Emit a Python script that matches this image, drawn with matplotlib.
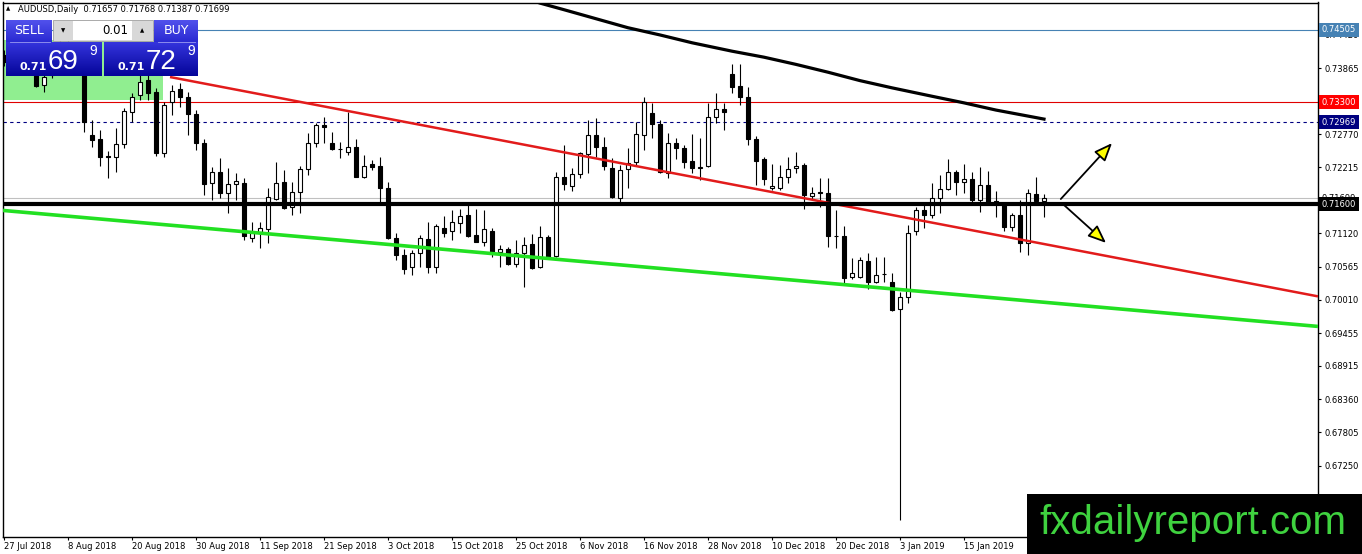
import numpy as np
import matplotlib
matplotlib.use("Agg")
import matplotlib.pyplot as plt
from matplotlib.patches import Rectangle
from matplotlib.colors import LinearSegmentedColormap

# daily AUDUSD candles (bar 0 = 27 Jul 2018)
opens = [0.7409, 0.7400, 0.7417, 0.7404, 0.7384, 0.7359, 0.7375, 0.7405, 0.7428, 0.7410,
         0.7390, 0.7276, 0.7269, 0.7240, 0.7239, 0.7261, 0.7314, 0.7342, 0.7367, 0.7347,
         0.7246, 0.7330, 0.7352, 0.7339, 0.7310, 0.7262, 0.7196, 0.7214, 0.7179, 0.7194,
         0.7196, 0.7104, 0.7114, 0.7119, 0.7169, 0.7197, 0.7156, 0.7181, 0.7219, 0.7262,
         0.7292, 0.7262, 0.7253, 0.7247, 0.7256, 0.7206, 0.7227, 0.7224, 0.7187, 0.7104,
         0.7076, 0.7056, 0.7079, 0.7102, 0.7056, 0.7121, 0.7116, 0.7129, 0.7142, 0.7109,
         0.7097, 0.7116, 0.7081, 0.7086, 0.7061, 0.7079, 0.7094, 0.7056, 0.7106, 0.7074,
         0.7206, 0.7191, 0.7211, 0.7244, 0.7276, 0.7256, 0.7221, 0.7171, 0.7219, 0.7231,
         0.7276, 0.7312, 0.7294, 0.7212, 0.7262, 0.7254, 0.7232, 0.7221, 0.7224, 0.7305,
         0.7319, 0.7377, 0.7357, 0.7339, 0.7269, 0.7236, 0.7187, 0.7187, 0.7206, 0.7221,
         0.7226, 0.7174, 0.7180, 0.7179, 0.7108, 0.7107, 0.7039, 0.7039, 0.7066, 0.7031,
         0.7044, 0.7031, 0.6986, 0.7006, 0.7116, 0.7151, 0.7142, 0.7171, 0.7186, 0.7214,
         0.7197, 0.7202, 0.7167, 0.7192, 0.7166, 0.7162, 0.7122, 0.7142, 0.7096, 0.7177,
         0.71657]
highs = [0.7417, 0.7425, 0.7427, 0.7417, 0.7392, 0.7380, 0.7412, 0.7438, 0.7436, 0.7418,
         0.7395, 0.7300, 0.7284, 0.7249, 0.7287, 0.7320, 0.7345, 0.7375, 0.7375, 0.7354,
         0.7330, 0.7359, 0.7362, 0.7347, 0.7317, 0.7269, 0.7222, 0.7237, 0.7221, 0.7212,
         0.7204, 0.7131, 0.7131, 0.7187, 0.7231, 0.7217, 0.7197, 0.7224, 0.7279, 0.7296,
         0.7305, 0.7281, 0.7264, 0.7314, 0.7269, 0.7242, 0.7234, 0.7239, 0.7197, 0.7112,
         0.7086, 0.7084, 0.7109, 0.7131, 0.7127, 0.7141, 0.7151, 0.7152, 0.7159, 0.7152,
         0.7151, 0.7121, 0.7092, 0.7089, 0.7101, 0.7106, 0.7111, 0.7124, 0.7109, 0.7214,
         0.7259, 0.7221, 0.7247, 0.7300, 0.7304, 0.7272, 0.7237, 0.7226, 0.7254, 0.7297,
         0.7339, 0.7329, 0.7300, 0.7279, 0.7271, 0.7259, 0.7277, 0.7271, 0.7329, 0.7345,
         0.7329, 0.7394, 0.7394, 0.7355, 0.7274, 0.7239, 0.7227, 0.7226, 0.7239, 0.7247,
         0.7229, 0.7189, 0.7204, 0.7204, 0.7151, 0.7124, 0.7071, 0.7073, 0.7079, 0.7073,
         0.7073, 0.7046, 0.7014, 0.7126, 0.7156, 0.7159, 0.7196, 0.7209, 0.7236, 0.7217,
         0.7227, 0.7214, 0.7222, 0.7216, 0.7182, 0.7164, 0.7146, 0.7167, 0.7186, 0.7206,
         0.71768]
lows = [0.7390, 0.7395, 0.7397, 0.7384, 0.7355, 0.7347, 0.7370, 0.7398, 0.7402, 0.7384,
        0.7281, 0.7256, 0.7224, 0.7204, 0.7214, 0.7254, 0.7297, 0.7334, 0.7334, 0.7241,
        0.7239, 0.7309, 0.7322, 0.7276, 0.7251, 0.7176, 0.7167, 0.7171, 0.7146, 0.7167,
        0.7101, 0.7097, 0.7088, 0.7096, 0.7167, 0.7152, 0.7142, 0.7146, 0.7209, 0.7256,
        0.7262, 0.7251, 0.7237, 0.7242, 0.7205, 0.7204, 0.7217, 0.7164, 0.7102, 0.7068,
        0.7044, 0.7043, 0.7056, 0.7046, 0.7046, 0.7106, 0.7101, 0.7112, 0.7106, 0.7097,
        0.7091, 0.7073, 0.7056, 0.7059, 0.7056, 0.7023, 0.7053, 0.7054, 0.7071, 0.7073,
        0.7184, 0.7182, 0.7204, 0.7212, 0.7239, 0.7217, 0.7171, 0.7164, 0.7187, 0.7226,
        0.7251, 0.7271, 0.7212, 0.7204, 0.7236, 0.7221, 0.7212, 0.7201, 0.7222, 0.7296,
        0.7284, 0.7345, 0.7325, 0.7259, 0.7192, 0.7192, 0.7184, 0.7184, 0.7196, 0.7212,
        0.7152, 0.7167, 0.7156, 0.7089, 0.7088, 0.7029, 0.7036, 0.7038, 0.7019, 0.7029,
        0.7031, 0.6983, 0.6635, 0.6996, 0.7109, 0.7121, 0.7137, 0.7146, 0.7184, 0.7176,
        0.7179, 0.7164, 0.7147, 0.7162, 0.7139, 0.7116, 0.7116, 0.7081, 0.7076, 0.7162,
        0.71387]
closes = [0.7397, 0.7414, 0.7404, 0.7390, 0.7357, 0.7372, 0.7405, 0.7428, 0.7410, 0.7390,
          0.7297, 0.7267, 0.7239, 0.7239, 0.7261, 0.7315, 0.7339, 0.7364, 0.7345, 0.7246,
          0.7325, 0.7349, 0.7339, 0.7310, 0.7262, 0.7194, 0.7214, 0.7179, 0.7194, 0.7199,
          0.7107, 0.7114, 0.7121, 0.7172, 0.7196, 0.7154, 0.7181, 0.7219, 0.7262, 0.7292,
          0.7289, 0.7252, 0.7252, 0.7256, 0.7206, 0.7224, 0.7222, 0.7187, 0.7104, 0.7076,
          0.7053, 0.7079, 0.7104, 0.7056, 0.7124, 0.7112, 0.7131, 0.7141, 0.7107, 0.7097,
          0.7119, 0.7081, 0.7086, 0.7061, 0.7079, 0.7092, 0.7054, 0.7106, 0.7073, 0.7206,
          0.7194, 0.7211, 0.7246, 0.7276, 0.7256, 0.7224, 0.7172, 0.7217, 0.7229, 0.7277,
          0.7330, 0.7294, 0.7214, 0.7262, 0.7254, 0.7231, 0.7221, 0.7222, 0.7305, 0.7319,
          0.7314, 0.7355, 0.7339, 0.7269, 0.7232, 0.7202, 0.7191, 0.7206, 0.7219, 0.7224,
          0.7176, 0.7179, 0.7179, 0.7107, 0.7107, 0.7038, 0.7046, 0.7068, 0.7031, 0.7043,
          0.7045, 0.6984, 0.7006, 0.7112, 0.7151, 0.7142, 0.7171, 0.7186, 0.7214, 0.7197,
          0.7202, 0.7167, 0.7192, 0.7162, 0.7162, 0.7122, 0.7142, 0.7096, 0.7179, 0.7166,
          0.71699]

date_labels = ["27 Jul 2018", "8 Aug 2018", "20 Aug 2018", "30 Aug 2018", "11 Sep 2018",
               "21 Sep 2018", "3 Oct 2018", "15 Oct 2018", "25 Oct 2018", "6 Nov 2018",
               "16 Nov 2018", "28 Nov 2018", "10 Dec 2018", "20 Dec 2018", "3 Jan 2019",
               "15 Jan 2019"]
price_ticks = [0.74420, 0.73865, 0.73310, 0.72770, 0.72215, 0.71120, 0.70565, 0.70010,
               0.69455, 0.68915, 0.68360, 0.67805, 0.67250, 0.66695]

# slow moving average (bar index, value)
ma_bars = [64, 67, 70, 74, 78, 82, 86, 91, 95, 99, 103, 107, 111, 116, 120, 124, 130]
ma_vals = [0.7509, 0.7495, 0.7484, 0.7469, 0.7454, 0.7442, 0.7429, 0.7415, 0.7405,
           0.7393, 0.7380, 0.7366, 0.7354, 0.7340, 0.7329, 0.7317, 0.7302]

# drawn objects
red_trend = ([20.75, 164.25], [0.7372, 0.7007])
green_trend = ([-0.125, 164.25], [0.7150, 0.6957])
support = 0.71600
resist = 0.73300
dash_level = 0.72969
blue_level = 0.74505
bid = 0.71699
box_price = (0.7334, 0.7434)
box_bars = (-0.125, 19.85)
arrow_up = ((132.1, 0.7169), (138.5, 0.7262))
arrow_down = ((132.5, 0.7159), (137.75, 0.7096))

W, H = 1362, 554
fig = plt.figure(figsize=(W / 100, H / 100), dpi=100)
fig.patch.set_facecolor("white")
ax = fig.add_axes([3 / W, (H - 537) / H, 1315 / W, (537 - 2.5) / H])

x = np.arange(len(opens))
o, hi, lo, c = map(np.array, (opens, highs, lows, closes))
up = c >= o
body_lo = np.minimum(o, c)
body_h = np.maximum(np.abs(c - o), 0.00006)

ax.add_patch(Rectangle((box_bars[0], box_price[0]), box_bars[1] - box_bars[0],
                       box_price[1] - box_price[0], color="#90ee90", lw=0, zorder=1))
ax.axhline(blue_level, color="#4682b4", lw=0.8, zorder=1.5)
ax.axhline(resist, color="#e00000", lw=0.8, zorder=1.5)
ax.axhline(dash_level, color="#000080", lw=0.8, dashes=(3, 3), zorder=1.5)
ax.axhline(bid, color="#c0c0c0", lw=0.8, zorder=1.5)

ax.vlines(x, lo, hi, color="black", lw=0.8, zorder=2)
ax.bar(x[up], body_h[up], bottom=body_lo[up], width=0.62, color="white",
       edgecolor="black", linewidth=0.8, zorder=3)
ax.bar(x[~up], body_h[~up], bottom=body_lo[~up], width=0.62, color="black",
       edgecolor="black", linewidth=0.8, zorder=3)

ax.plot(*red_trend, color="#e21b1b", lw=1.8, zorder=4, solid_capstyle="butt")
ax.plot(*green_trend, color="#22e022", lw=2.6, zorder=4, solid_capstyle="butt")
ax.plot(ma_bars, ma_vals, color="black", lw=2.3, zorder=4, solid_joinstyle="round")
ax.axhline(support, color="black", lw=3.0, zorder=4)

for start, end in (arrow_up, arrow_down):
    ax.annotate("", xy=end, xytext=start, zorder=6,
                arrowprops=dict(arrowstyle="-|>,head_length=1.1,head_width=0.45",
                                fc="yellow", ec="black", lw=1.3, shrinkA=0, shrinkB=0))

ax.set_xlim(-0.125, 164.25)
ax.set_ylim(0.66066, 0.74960)
ax.set_facecolor("white")
for sp in ax.spines.values():
    sp.set_color("black")
    sp.set_linewidth(1)

ax.yaxis.tick_right()
ax.set_yticks(price_ticks)
ax.set_yticklabels([f"{v:.5f}" for v in price_ticks])
ax.tick_params(axis="y", labelsize=6, length=2.5, width=0.8, pad=2)
ax.set_xticks(np.arange(0, 8 * len(date_labels), 8))
ax.set_xticklabels(date_labels, ha="left")
ax.tick_params(axis="x", labelsize=6, length=2.5, width=0.8, pad=1)

ytr = ax.get_yaxis_transform()
ax.text(1.003, bid, f"{bid:.5f}", transform=ytr, fontsize=6, color="black", va="center",
        ha="left", clip_on=False, zorder=9,
        bbox=dict(boxstyle="square,pad=0.25", fc="white", ec="none"))
for val, col in ((blue_level, "#4682b4"), (resist, "#ff0000"),
                 (dash_level, "#000080"), (support, "black")):
    ax.text(1.003, val, f"{val:.5f}", transform=ytr, fontsize=6, color="white",
            va="center", ha="left", clip_on=False, zorder=10,
            bbox=dict(boxstyle="square,pad=0.3", fc=col, ec="none"))

# overlay in pixel units for the trade panel, header and watermark
ui = fig.add_axes([0, 0, 1, 1], zorder=5)
ui.set_axis_off()
ui.patch.set_alpha(0)


def grad(x0, x1, y0, y1, top, bottom):
    cmap = LinearSegmentedColormap.from_list("g", [top, bottom])
    ui.imshow(np.linspace(0, 1, 32).reshape(-1, 1), cmap=cmap, aspect="auto",
              extent=(x0, x1, y1, y0), interpolation="bilinear")


grad(6, 52, 20, 42, "#5151ec", "#2a2ad2")
grad(154, 198, 20, 42, "#5151ec", "#2a2ad2")
grad(6, 102, 42, 76, "#3434dc", "#05059a")
grad(104, 198, 42, 76, "#3434dc", "#05059a")
ui.add_patch(Rectangle((53, 20), 100, 21, fc="#d8d8d8", ec="#a0a0a0", lw=0.6))
ui.add_patch(Rectangle((73, 21), 59, 19, fc="white", ec="none"))
ui.plot([10, 50], [42, 42], color="#9a9af0", lw=0.6)
ui.plot([158, 195], [42, 42], color="#9a9af0", lw=0.6)

ui.text(29, 31, "SELL", color="white", fontsize=9, ha="center", va="center")
ui.text(176, 31, "BUY", color="white", fontsize=9, ha="center", va="center")
ui.text(128, 31, "0.01", color="black", fontsize=8.5, ha="right", va="center")
ui.text(63, 31, "▼", color="black", fontsize=4, ha="center", va="center")
ui.text(142, 31, "▲", color="black", fontsize=4, ha="center", va="center")
for x0, big, sup in ((19, "69", "9"), (117, "72", "9")):
    ui.text(x0, 70, "0.71", color="white", fontsize=8, fontweight="bold", va="baseline")
    ui.text(x0 + 29, 69, big, color="white", fontsize=20, family="Liberation Sans",
            va="baseline")
    ui.text(x0 + 70, 55, sup, color="white", fontsize=10, family="Liberation Sans",
            va="baseline")

ui.text(6, 9, "▲", fontsize=4, color="black", va="center")
ui.text(18, 9, "AUDUSD,Daily  0.71657 0.71768 0.71387 0.71699", fontsize=6,
        color="black", va="center")

ui.add_patch(Rectangle((1027, 494), 335, 60, fc="black", ec="none"))
ui.text(1193, 523, "fxdailyreport.com", color="#3fd23f", fontsize=29,
        family="Liberation Sans", ha="center", va="center")

ui.set_xlim(0, W)
ui.set_ylim(H, 0)

fig.savefig("out.png", dpi=100)
